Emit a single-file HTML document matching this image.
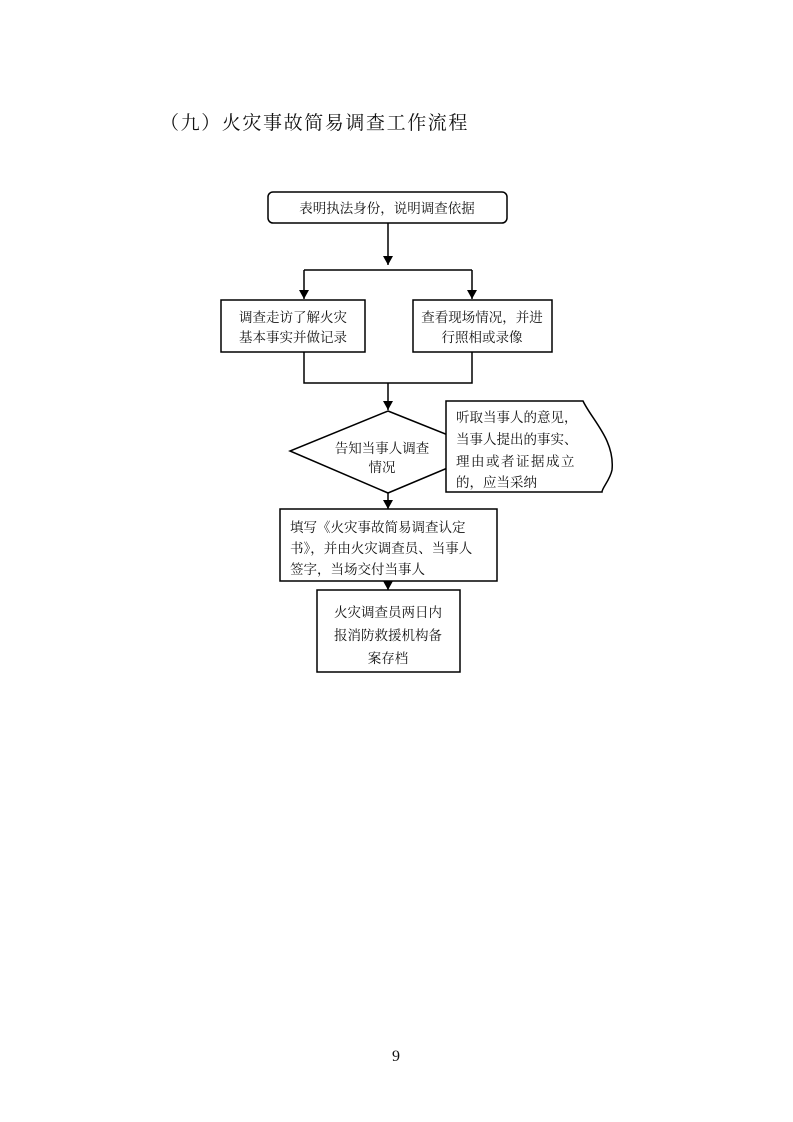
<!DOCTYPE html>
<html><head><meta charset="utf-8"><style>
body{margin:0;background:#fff}
svg{display:block}
text{font-family:"Liberation Serif","Noto Serif CJK SC",serif;fill:#111}
</style></head><body>
<svg width="793" height="1122" viewBox="0 0 793 1122" xmlns="http://www.w3.org/2000/svg">
<defs><marker id="a" markerWidth="10" markerHeight="10" refX="5" refY="9" orient="0" markerUnits="userSpaceOnUse"><path d="M0,0 L10,0 L5,9 Z" fill="#000"/></marker></defs>
<text x="160" y="129" font-size="19" letter-spacing="1.6">（九）火灾事故简易调查工作流程</text>
<g stroke="#000" stroke-width="1.5" fill="none">
<rect x="268" y="192" width="239" height="31" rx="5"/>
<line x1="388" y1="223" x2="388" y2="265" marker-end="url(#a)"/>
<line x1="304" y1="270" x2="472" y2="270"/>
<line x1="304" y1="270" x2="304" y2="299" marker-end="url(#a)"/>
<line x1="472" y1="270" x2="472" y2="299" marker-end="url(#a)"/>
<rect x="221" y="300" width="144" height="52"/>
<rect x="413" y="300" width="139" height="52"/>
<polyline points="304,352 304,383 472,383 472,352"/>
<line x1="388" y1="383" x2="388" y2="410" marker-end="url(#a)"/>
<polygon points="388,411 488,451 388,493 290,451"/>
<path d="M446,401 L583,401 C592,420 615,440 612,470 C610,480 602,488 602,492 L446,492 Z" fill="#fff"/>
<line x1="388" y1="493" x2="388" y2="509" marker-end="url(#a)"/>
<rect x="280" y="509" width="217" height="72"/>
<line x1="388" y1="581" x2="388" y2="590" marker-end="url(#a)"/>
<rect x="317" y="590" width="143" height="82"/>
</g>
<g font-size="13.5">
<text x="387" y="213" text-anchor="middle">表明执法身份，说明调查依据</text>
<text x="293" y="322" text-anchor="middle">调查走访了解火灾</text>
<text x="293" y="342" text-anchor="middle">基本事实并做记录</text>
<text x="482" y="322" text-anchor="middle">查看现场情况，并进</text>
<text x="482" y="342" text-anchor="middle">行照相或录像</text>
<text x="382" y="453" text-anchor="middle">告知当事人调查</text>
<text x="382" y="472" text-anchor="middle">情况</text>
<text x="456" y="422">听取当事人的意见，</text>
<text x="456" y="444">当事人提出的事实、</text>
<text x="456" y="466" letter-spacing="1.5">理由或者证据成立</text>
<text x="456" y="487">的，应当采纳</text>
<text x="290" y="532">填写《火灾事故简易调查认定</text>
<text x="290" y="553">书》，并由火灾调查员、当事人</text>
<text x="290" y="574">签字，当场交付当事人</text>
<text x="388" y="617" text-anchor="middle">火灾调查员两日内</text>
<text x="388" y="640" text-anchor="middle">报消防救援机构备</text>
<text x="388" y="663" text-anchor="middle">案存档</text>
</g>
<text x="396" y="1061" font-size="16" text-anchor="middle">9</text>
</svg>
</body></html>
